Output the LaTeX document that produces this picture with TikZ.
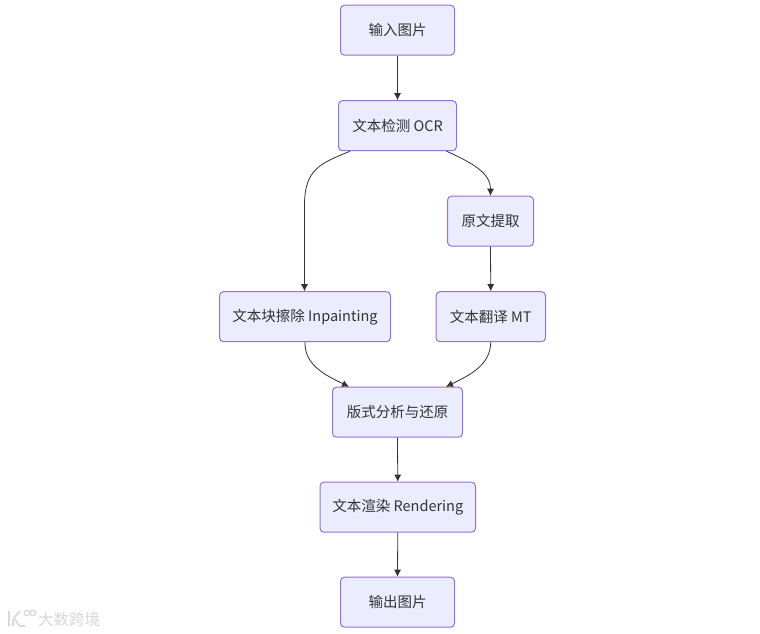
\documentclass[tikz,border=0pt]{standalone}
\usepackage{fontspec}
\setmainfont{Noto Sans CJK SC}
\usetikzlibrary{arrows.meta}
\definecolor{boxfill}{HTML}{ECECFF}
\definecolor{boxline}{HTML}{9370DB}
\definecolor{edge}{HTML}{333333}
\definecolor{wm}{HTML}{D8D8D8}
\tikzset{
  flowbox/.style={draw=boxline,fill=boxfill,line width=1pt,rounded corners=4pt,anchor=north west,inner sep=0pt,text=edge,font=\fontsize{14.5}{16}\selectfont,align=center},
  link/.style={draw=edge,line width=0.8pt,-{Latex[length=7pt,width=7pt]}}
}
\begin{document}
\begin{tikzpicture}[x=1pt,y=-1pt]
\useasboundingbox (0,0) rectangle (760,634);
\fill[white] (0,0) rectangle (760,634);
\node[flowbox,minimum width=114pt,minimum height=50pt] (a) at (340,4.7) {输入图片};
\node[flowbox,minimum width=118pt,minimum height=50pt] (b) at (338,100.2) {文本检测 OCR};
\node[flowbox,minimum width=86pt,minimum height=50pt] (c) at (447,195.7) {原文提取};
\node[flowbox,minimum width=171pt,minimum height=50pt] (d) at (219,291.2) {文本块擦除 Inpainting};
\node[flowbox,minimum width=109.5pt,minimum height=50pt] (e) at (435.5,291.2) {文本翻译 MT};
\node[flowbox,minimum width=130pt,minimum height=50pt] (f) at (332,386.7) {版式分析与还原};
\node[flowbox,minimum width=155.5pt,minimum height=50pt] (g) at (319.5,481.7) {文本渲染 Rendering};
\node[flowbox,minimum width=114pt,minimum height=50pt] (h) at (340,576.7) {输出图片};
\draw[link] (a.south) -- (b.north);
\draw[link] (b.south) ++(-47.5,0) coordinate (b1) .. controls (322,163) and (304.5,168) .. (304.5,205) -- (d.north -| 304.5,291.2);
\draw[link] (b.south) ++(49,0) coordinate (b2) .. controls (470,162) and (490.5,172) .. (490.5,195.7);
\draw[link] (c.south) -- (e.north);
\draw[link] (d.south) .. controls (304.5,365) and (325,375) .. (349,386.7);
\draw[link] (e.south) .. controls (490.5,365) and (470,375) .. (446,386.7);
\draw[link] (f.south) -- (g.north);
\draw[link] (g.south) -- (h.north);
\node[text=wm,font=\fontsize{15.5}{15.5}\selectfont,anchor=center] (w) at (69,620) {大数跨境};
\draw[wm,line width=1.6pt,rounded corners=1.5pt] (9,611) -- (9,626) (13,626) -- (13,619) -- (20,611) (15,619) -- (19,626) -- (25,626);
\draw[wm,line width=1.1pt] (27,613) circle (2.8) (33,613) circle (2.8);
\end{tikzpicture}
\end{document}
